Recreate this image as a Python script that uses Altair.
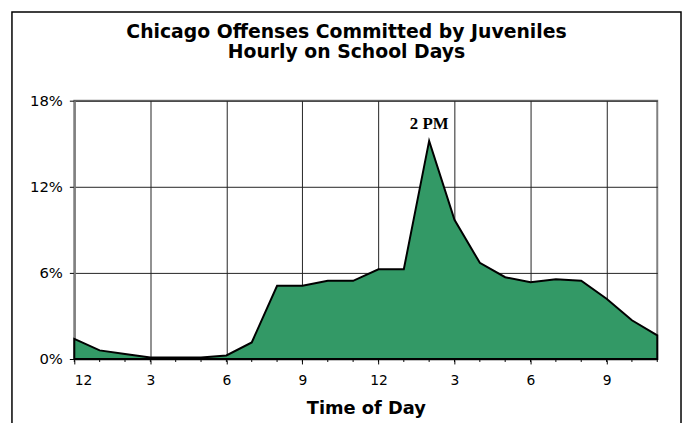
import altair as alt
import pandas as pd

hours = list(range(24))
pct = [1.4, 0.6, 0.35, 0.1, 0.1, 0.1, 0.25, 1.15, 5.1, 5.1, 5.45, 5.45,
       6.25, 6.25, 15.2, 9.7, 6.7, 5.7, 5.35, 5.55, 5.45, 4.2, 2.7, 1.65]
x_ticks = [0, 3, 6, 9, 12, 15, 18, 21]
y_ticks = [0, 6, 12, 18]
ann_hour = [14]
ann_val = [15.2]
ann_text = ["2 PM"]

df = pd.DataFrame({"hour": hours, "pct": pct})
ann = pd.DataFrame({"hour": ann_hour, "pct": ann_val, "label": ann_text})

FONT = "DejaVu Sans"

x_enc = alt.X(
    "hour:Q",
    scale=alt.Scale(domain=[0, 23], nice=False, zero=False),
    axis=alt.Axis(
        title="Time of Day",
        values=x_ticks,
        labelExpr="datum.value % 12 == 0 ? '12' : '' + (datum.value % 12)",
        labelOverlap=False,
        tickSize=5,
        labelPadding=10,
        titlePadding=12,
    ),
)
y_enc = alt.Y(
    "pct:Q",
    scale=alt.Scale(domain=[0, 18], nice=False),
    axis=alt.Axis(
        title=None,
        values=y_ticks,
        labelExpr="datum.value + '%'",
        tickSize=5,
        labelPadding=7,
        labelFontSize=15,
    ),
)

frame = alt.Chart(alt.Data(values=[{"f": 1}])).mark_rect(
    fill="transparent", stroke="black", strokeWidth=1.5
).encode(
    x=alt.value(-63), x2=alt.value(613), y=alt.value(-89.5), y2=alt.value(400)
)

area = alt.Chart(df).mark_area(
    color="#339966", stroke="black", strokeWidth=2, strokeJoin="miter"
).encode(x=x_enc, y=y_enc)

minor = alt.Chart(df).mark_rule(color="black", strokeWidth=1).encode(
    x="hour:Q", y=alt.value(261), y2=alt.value(264)
)

text = alt.Chart(ann).mark_text(
    font="Liberation Serif", fontSize=17, fontWeight="bold", dy=-17,
    baseline="middle", color="black"
).encode(x="hour:Q", y="pct:Q", text="label:N")

chart = alt.layer(area, minor, text, frame).properties(
    width=589,
    height=261,
    autosize="none",
    padding={"left": 67, "top": 91.5, "right": 25, "bottom": 62},
    title=alt.Title(
        text=["Chicago Offenses Committed by Juveniles", "Hourly on School Days"],
        font=FONT, fontSize=19, fontWeight="bold", color="black",
        anchor="middle", frame="group", dx=-19.5, offset=-51, lineHeight=20,
    ),
).configure_view(
    stroke="#808080", strokeWidth=2
).configure_axis(
    labelFont=FONT, labelFontSize=14, labelColor="black",
    titleFont=FONT, titleFontSize=18, titleFontWeight="bold", titleColor="black",
    gridColor="#222222", gridWidth=1,
    tickColor="black", domainColor="#808080", domainWidth=2,
)

chart.save("out.html", embed_options={"renderer": "svg", "actions": False})
